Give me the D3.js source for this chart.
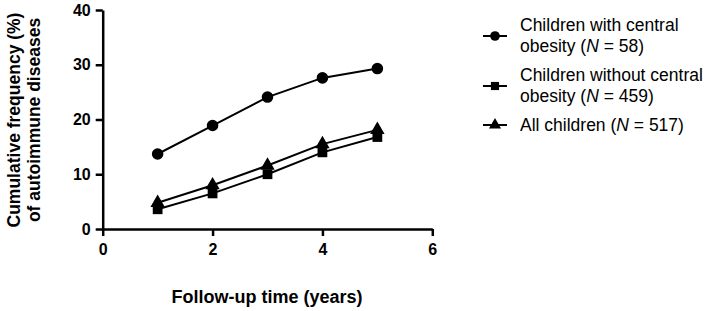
<!DOCTYPE html>
<meta charset="utf-8">
<script src="https://d3js.org/d3.v7.min.js"></script>
<style>
  body { margin: 0; background: #fff; }
  text { font-family: "Liberation Sans", Arial, sans-serif; }
</style>
<div id="chart"></div>
<script>
// data
var years = [1, 2, 3, 4, 5];
var withObesity = [13.7, 18.9, 24.1, 27.6, 29.3];
var withoutObesity = [3.6, 6.5, 10.0, 14.0, 16.8];
var allChildren = [4.8, 8.0, 11.6, 15.5, 18.1];
var xTicks = [0, 2, 4, 6];
var yTicks = [0, 10, 20, 30, 40];

var series = [
  {name: ["Children with central", "obesity (", "58)"], values: withObesity, symbol: d3.symbolCircle, size: 105},
  {name: ["Children without central", "obesity (", "459)"], values: withoutObesity, symbol: d3.symbolSquare, size: 95},
  {name: ["All children (", "517)"], values: allChildren, symbol: d3.symbolTriangle, size: 90}
];

var svg = d3.select("#chart").append("svg")
  .attr("width", 709).attr("height", 311);

var x = d3.scaleLinear().domain([0, 6]).range([102.7, 432.3]);
var y = d3.scaleLinear().domain([0, 40]).range([229, 10]);

// axes
var xAxis = svg.append("g")
  .attr("transform", "translate(0," + y(0) + ")")
  .call(d3.axisBottom(x).tickValues(xTicks).tickFormat(d3.format("d"))
    .tickSize(7).tickPadding(8).tickSizeOuter(0));
var yAxis = svg.append("g")
  .attr("transform", "translate(" + x(0) + ",0)")
  .call(d3.axisLeft(y).tickValues(yTicks).tickFormat(d3.format("d"))
    .tickSize(7).tickPadding(5).tickSizeOuter(0));

[xAxis, yAxis].forEach(function(g) {
  g.select(".domain").attr("stroke-width", 2.5).attr("stroke", "#000");
  g.selectAll(".tick line").attr("stroke-width", 2.5).attr("stroke", "#000");
  g.selectAll(".tick text")
    .attr("font-family", "Liberation Sans, Arial, sans-serif")
    .attr("font-size", 16).attr("font-weight", "bold").attr("fill", "#000");
});

// axis titles
svg.append("text")
  .attr("x", 267).attr("y", 303)
  .attr("text-anchor", "middle")
  .attr("font-size", 18).attr("font-weight", "bold")
  .text("Follow-up time (years)");

var yTitle = svg.append("text")
  .attr("transform", "translate(20,120) rotate(-90)")
  .attr("text-anchor", "middle")
  .attr("font-size", 17.5).attr("font-weight", "bold");
yTitle.append("tspan").attr("x", 0).attr("y", 0).text("Cumulative frequency (%)");
yTitle.append("tspan").attr("x", 0).attr("y", 20).text("of autoimmune diseases");

// lines and markers
var line = d3.line()
  .x(function(d, i) { return x(years[i]); })
  .y(function(d) { return y(d); });

series.forEach(function(s) {
  svg.append("path")
    .datum(s.values)
    .attr("fill", "none")
    .attr("stroke", "#000")
    .attr("stroke-width", 2)
    .attr("d", line);
  svg.selectAll(null)
    .data(s.values)
    .enter().append("path")
    .attr("d", d3.symbol().type(s.symbol).size(s.size))
    .attr("transform", function(d, i) { return "translate(" + x(years[i]) + "," + y(d) + ")"; })
    .attr("fill", "#000");
});

// legend
var legendY = [36, 86, 125];
series.forEach(function(s, i) {
  var g = svg.append("g").attr("transform", "translate(495," + legendY[i] + ")");
  g.append("line").attr("x1", -12).attr("x2", 12).attr("stroke", "#000").attr("stroke-width", 2);
  g.append("path").attr("d", d3.symbol().type(s.symbol).size(s.size * 0.7)).attr("fill", "#000");

  var t = g.append("text").attr("x", 25).attr("font-size", 17.5).attr("fill", "#000");
  var lastLine;
  if (s.name.length === 3) {
    t.append("tspan").attr("x", 25).attr("y", -5).text(s.name[0]);
    lastLine = t.append("tspan").attr("x", 25).attr("y", 16);
    lastLine.append("tspan").text(s.name[1]);
  } else {
    lastLine = t.append("tspan").attr("x", 25).attr("y", 6);
    lastLine.append("tspan").text(s.name[0]);
  }
  lastLine.append("tspan").attr("font-style", "italic").text("N");
  lastLine.append("tspan").text(" = " + s.name[s.name.length - 1]);
});
</script>
